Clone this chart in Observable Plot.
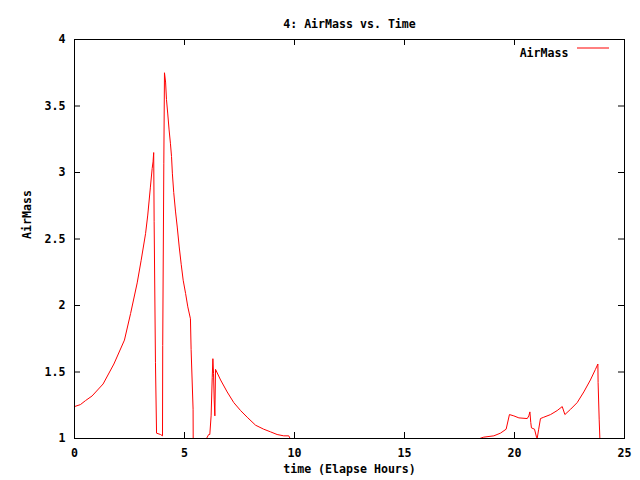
<!DOCTYPE html>
<html>
<head>
<meta charset="utf-8">
<script src="https://cdn.jsdelivr.net/npm/d3@7"></script>
<script src="https://cdn.jsdelivr.net/npm/@observablehq/plot@0.6"></script>
<style>
  html, body { margin: 0; padding: 0; background: #fff; }
  svg { font-family: "DejaVu Sans Mono", monospace; font-weight: bold; }
</style>
</head>
<body>
<div id="chart"></div>
<script>
const title = "4: AirMass vs. Time";
const xLabel = "time (Elapse Hours)";
const yLabel = "AirMass";
const seriesName = "AirMass";
const xTicks = [0, 5, 10, 15, 20, 25];
const yTicks = [1, 1.5, 2, 2.5, 3, 3.5, 4];

const hours = [0, 0.27, 0.5, 0.8, 1.3, 1.79, 2.27, 2.55, 2.85, 3.03, 3.23, 3.33, 3.45, 3.53, 3.57, 3.6, 3.62, 3.68, 3.73, 3.91, 4.0,
  4.01, 4.06, 4.09, 4.14, 4.18, 4.24, 4.3, 4.36, 4.41, 4.45, 4.51, 4.59, 4.67, 4.76, 4.85, 4.94, 5.05, 5.15, 5.27,
  5.3, 5.39, 5.42, 5.95, 6.0, 6.1, 6.15,
  6.21, 6.26, 6.29, 6.32, 6.35, 6.38, 6.41, 6.64, 6.94, 7.24, 7.55, 7.85, 8.23, 8.6, 8.91, 9.21, 9.51, 9.74,
  9.8, 9.85, 18.35, 18.42, 18.6, 19.06, 19.36, 19.62, 19.77, 19.97, 20.2, 20.58, 20.65, 20.7, 20.74, 20.77,
  20.91, 21.0, 21.03, 21.1, 21.18, 21.33, 21.64, 21.94, 22.17, 22.29, 22.55, 22.85, 23.15, 23.45, 23.68,
  23.79, 23.8, 23.85, 23.88, 23.9];
const airmass = [1.24, 1.255, 1.285, 1.32, 1.41, 1.56, 1.74, 1.94, 2.17, 2.34, 2.54, 2.68, 2.89, 3.03, 3.08, 3.15, 2.63, 1.57, 1.04, 1.03, 1.02,
  1.70, 3.07, 3.75, 3.68, 3.55, 3.44, 3.32, 3.22, 3.12, 2.99, 2.85, 2.71, 2.59, 2.44, 2.31, 2.19, 2.09, 1.99, 1.90,
  1.67, 1.22, 0, 0.98, 1.0, 1.03, 1.03,
  1.17, 1.46, 1.60, 1.49, 1.29, 1.17, 1.52, 1.44, 1.35, 1.27, 1.21, 1.16, 1.10, 1.07, 1.05, 1.03, 1.02, 1.02,
  1.0, 0, 0.99, 1.0, 1.01, 1.02, 1.04, 1.07, 1.18, 1.17, 1.155, 1.15, 1.17, 1.20, 1.12, 1.08,
  1.07, 1.01, 1.0, 1.07, 1.15, 1.16, 1.18, 1.21, 1.24, 1.18, 1.22, 1.27, 1.35, 1.44, 1.52,
  1.56, 1.42, 1.14, 1.0, 0];

const data = hours.map((t, i) => ({t, v: airmass[i]}));

const W = 640, H = 480;
const mL = 74, mR = 16, mT = 39, mB = 42;
const innerW = W - mL - mR, innerH = H - mT - mB;
const tick = 6;
const fs = "11.6px";

const plot = Plot.plot({
  width: W, height: H,
  marginLeft: mL, marginRight: mR, marginTop: mT, marginBottom: mB,
  style: {fontFamily: "DejaVu Sans Mono, monospace", fontSize: fs, fontWeight: "bold", background: "#fff", color: "#000"},
  x: {domain: [0, 25]},
  y: {domain: [1, 4]},
  marks: [
    Plot.line(data, {x: "t", y: "v", stroke: "#ff0000", strokeWidth: 1, clip: true}),
    Plot.frame({stroke: "#000", strokeWidth: 1}),
    Plot.tickX(xTicks, {x: d => d, insetTop: innerH - tick, stroke: "#000"}),
    Plot.tickX(xTicks, {x: d => d, insetBottom: innerH - tick, stroke: "#000"}),
    Plot.tickY(yTicks, {y: d => d, insetRight: innerW - tick, stroke: "#000"}),
    Plot.tickY(yTicks, {y: d => d, insetLeft: innerW - tick, stroke: "#000"}),
    Plot.axisX({ticks: xTicks, tickSize: 0, tickPadding: 10, label: null, tickFormat: d => String(d), fontSize: fs}),
    Plot.axisY({ticks: yTicks, tickSize: 0, tickPadding: 9, label: null, tickFormat: d => String(d), fontSize: fs}),
    Plot.text([title], {frameAnchor: "top", dy: -20, fontSize: fs, fill: "#000"}),
    Plot.text([xLabel], {frameAnchor: "bottom", dy: 34, fontSize: fs, fill: "#000"}),
    Plot.text([yLabel], {frameAnchor: "left", dx: -47, rotate: -90, fontSize: fs, fill: "#000"}),
    Plot.text([seriesName], {frameAnchor: "top-right", dx: -56, dy: 9, textAnchor: "end", fontSize: fs, fill: "#000"})
  ]
});

// legend sample line, positioned relative to the frame's top-right corner
d3.select(plot).append("line")
  .attr("x1", W - mR - 47).attr("x2", W - mR - 15)
  .attr("y1", mT + 9).attr("y2", mT + 9)
  .attr("stroke", "#ff0000").attr("stroke-width", 1);

document.getElementById("chart").appendChild(plot);
</script>
</body>
</html>
